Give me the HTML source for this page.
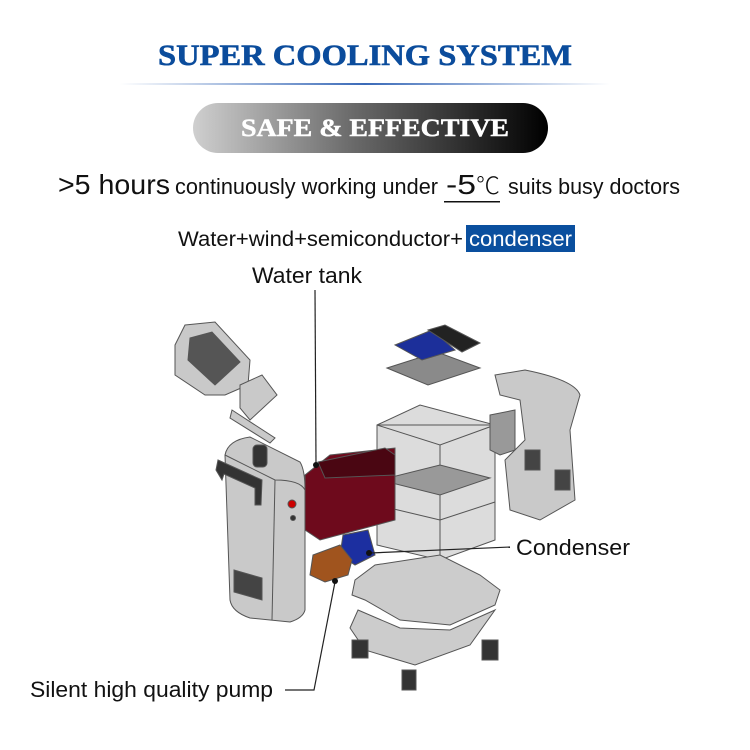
<!DOCTYPE html>
<html><head><meta charset="utf-8"><style>
html,body{margin:0;padding:0;background:#fff;width:750px;height:750px;overflow:hidden}
</style></head><body>
<svg width="750" height="750" viewBox="0 0 750 750" xmlns="http://www.w3.org/2000/svg">
<defs>
<linearGradient id="ln" x1="0" x2="1"><stop offset="0" stop-color="#fff"/><stop offset="0.5" stop-color="#3a6ab8"/><stop offset="1" stop-color="#fff"/></linearGradient>
<linearGradient id="pill" x1="0" x2="1"><stop offset="0" stop-color="#cfcfcf"/><stop offset="0.45" stop-color="#6a6a6a"/><stop offset="1" stop-color="#000"/></linearGradient>
</defs>
<text x="365" y="65" text-anchor="middle" font-family="Liberation Serif,serif" font-weight="bold" font-size="30" fill="#0b4c9c" stroke="#0b4c9c" stroke-width="0.6" textLength="414" lengthAdjust="spacingAndGlyphs">SUPER COOLING SYSTEM</text>
<rect x="120" y="83" width="490" height="2" fill="url(#ln)"/>
<rect x="193" y="103" width="355" height="50" rx="25" fill="url(#pill)"/>
<text x="375" y="136" text-anchor="middle" font-family="Liberation Serif,serif" font-weight="bold" font-size="25" fill="#fff" stroke="#fff" stroke-width="0.5" textLength="268" lengthAdjust="spacingAndGlyphs">SAFE &amp; EFFECTIVE</text>
<g font-family="Liberation Sans,sans-serif" fill="#111">
<text x="58" y="194" font-size="28" textLength="112" lengthAdjust="spacingAndGlyphs">&gt;5 hours</text>
<text x="175" y="194" font-size="22" textLength="263" lengthAdjust="spacingAndGlyphs">continuously working under</text>
<text x="446" y="194" font-size="28" textLength="30" lengthAdjust="spacingAndGlyphs">-5</text>
<text x="476" y="194" font-size="24" font-family="Noto Sans CJK SC,sans-serif" font-weight="300">℃</text>
<rect x="444" y="201" width="56" height="1.5" fill="#111"/>
<text x="508" y="194" font-size="22" textLength="172" lengthAdjust="spacingAndGlyphs">suits busy doctors</text>
<text x="178" y="246" font-size="21" textLength="285" lengthAdjust="spacingAndGlyphs">Water+wind+semiconductor+</text>
<rect x="466" y="225" width="109" height="27" fill="#0a4f9e"/>
<text x="469" y="246" font-size="21" fill="#fff" textLength="103" lengthAdjust="spacingAndGlyphs">condenser</text>
<text x="252" y="283" font-size="22" textLength="110" lengthAdjust="spacingAndGlyphs">Water tank</text>
<text x="516" y="555" font-size="22" textLength="114" lengthAdjust="spacingAndGlyphs">Condenser</text>
<text x="30" y="697" font-size="22" textLength="243" lengthAdjust="spacingAndGlyphs">Silent high quality pump</text>
</g>
<g stroke="#555" stroke-width="1" fill="#c9c9c9">
<polygon points="185,325 215,322 250,360 248,385 225,395 205,395 175,375 175,345"/>
<polygon points="190,338 212,332 240,362 215,385 188,360" fill="#555"/>
<polygon points="240,385 262,375 277,395 250,420 240,408" />
<polygon points="232,410 275,438 270,443 230,418"/>
<path d="M225,455 Q228,440 250,437 L300,462 Q305,470 305,490 L305,610 Q303,618 290,622 L250,618 Q232,612 230,600 Z"/>
<path d="M225,455 L275,480 Q300,480 305,490" fill="none"/>
<path d="M275,480 L272,620" fill="none"/>
<path d="M216,470 L218,460 L262,480 L261,505 L255,505 L255,488 L224,474 L222,480 Z" fill="#333"/>
<rect x="253" y="445" width="14" height="22" rx="4" fill="#333"/>
<circle cx="292" cy="504" r="4" fill="#c00"/>
<circle cx="293" cy="518" r="2.5" fill="#333"/>
<polygon points="234,570 262,578 262,600 234,592" fill="#444"/>
<polygon points="377,425 420,405 495,425 495,540 440,560 377,545" fill="#dcdcdc"/>
<polygon points="377,425 440,445 495,425" fill="none"/>
<line x1="440" y1="445" x2="440" y2="560"/>
<polygon points="380,480 440,495 490,478 440,465" fill="#999"/>
<line x1="377" y1="505" x2="440" y2="520"/><line x1="440" y1="520" x2="495" y2="502"/>
<polygon points="387,368 437,352 480,368 428,385" fill="#8a8a8a"/>
<polygon points="395,345 432,330 455,350 422,360" fill="#1c2f9a"/>
<polygon points="428,330 445,325 480,343 462,352" fill="#222"/>
<path d="M490,415 L515,410 L515,450 L500,455 L490,450 Z" fill="#999"/>
<path d="M495,375 L525,370 Q575,380 580,395 L570,430 L575,500 L540,520 L510,510 L505,460 L525,440 L520,400 L500,395 Z"/>
<rect x="525" y="450" width="15" height="20" fill="#444"/>
<rect x="555" y="470" width="15" height="20" fill="#444"/>
<polygon points="305,475 330,455 395,448 395,520 320,540 305,530" fill="#6e0a1c"/>
<polygon points="318,462 385,448 395,455 395,475 325,478" fill="#4a0612"/>
<polygon points="343,535 368,530 375,555 355,565 340,555" fill="#1c2fa0"/>
<polygon points="313,555 340,545 352,560 348,575 325,582 310,575" fill="#a0541e"/>
<polygon points="355,580 375,565 440,555 480,575 500,590 495,605 450,625 400,620 365,600 352,595" fill="#ccc"/>
<polygon points="358,610 400,628 450,630 495,610 470,645 415,665 365,650 350,628" fill="#ccc"/>
<rect x="352" y="640" width="16" height="18" fill="#333"/>
<rect x="482" y="640" width="16" height="20" fill="#333"/>
<rect x="402" y="670" width="14" height="20" fill="#333"/>
</g>
<g stroke="#222" stroke-width="1.2" fill="none">
<line x1="315" y1="290" x2="316" y2="464"/>
<line x1="370" y1="553" x2="510" y2="547"/>
<polyline points="285,690 314,690 335,582"/>
</g>
<circle cx="316" cy="465" r="3" fill="#111"/>
<circle cx="369" cy="553" r="3" fill="#111"/>
<circle cx="335" cy="581" r="3" fill="#111"/>
</svg>
</body></html>
